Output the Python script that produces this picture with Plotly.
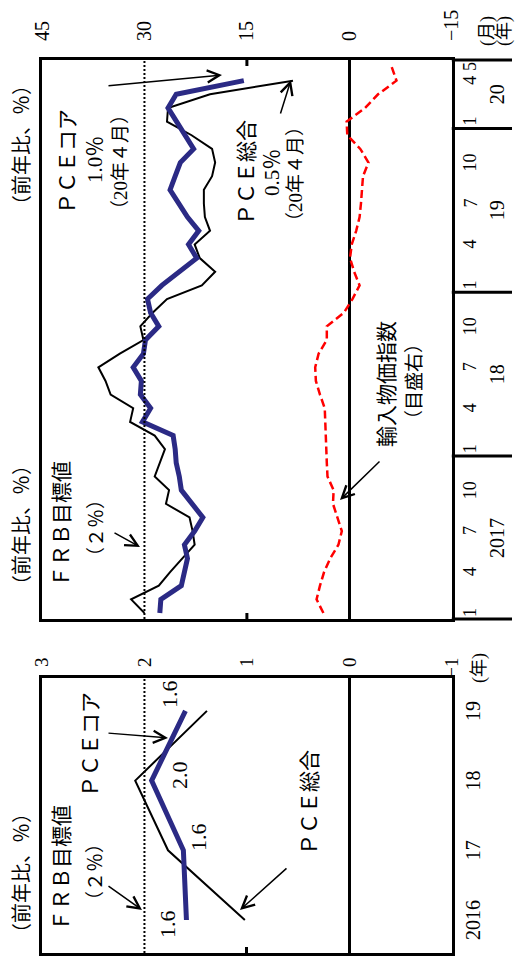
import plotly.graph_objects as go

W, H = 515, 959

# ---------------- data ----------------
# monthly panel: index 0 = Jan 2017 ... index 40 = May 2020
month_index = list(range(41))
pce_total_m = [2.00, 2.13, 1.86, 1.75, 1.63, 1.51, 1.53, 1.56, 1.79, 1.76, 1.90, 1.85,
               1.80, 1.90, 2.14, 2.11, 2.33, 2.38, 2.45, 2.24, 2.01, 2.04, 1.92, 1.78,
               1.44, 1.31, 1.46, 1.51, 1.36, 1.41, 1.42, 1.42, 1.34, 1.31, 1.34, 1.54,
               1.78, 1.77, 1.36, 0.55]
pce_core_m = [1.85, 1.84, 1.64, 1.61, 1.58, 1.61, 1.51, 1.43, 1.54, 1.64, 1.66, 1.69,
              1.70, 1.72, 2.02, 1.94, 2.04, 2.03, 2.11, 2.01, 1.99, 1.86, 1.94, 1.97,
              1.83, 1.66, 1.49, 1.57, 1.47, 1.58, 1.66, 1.75, 1.70, 1.65, 1.52, 1.60,
              1.68, 1.77, 1.69, 1.03]
import_price_m = [3.8, 4.8, 4.3, 3.7, 2.8, 1.6, 1.1, 1.8, 2.4, 2.3, 3.2, 3.3,
                  3.4, 3.5, 3.6, 3.6, 4.3, 4.9, 5.0, 4.5, 3.3, 3.3, 0.8, -0.45,
                  -1.5, -0.7, -0.1, -0.35, -1.0, -1.5, -1.7, -1.9, -2.0, -2.8, -1.6, 0.3,
                  0.4, -2.3, -4.2, -6.9, -6.2]

month_tick_idx = [0, 3, 6, 9, 12, 15, 18, 21, 24, 27, 30, 33, 36, 39, 40]
month_tick_txt = ["1", "4", "7", "10", "1", "4", "7", "10", "1", "4", "7", "10", "1", "4", "5"]
year_label_pos = [5.5, 17.5, 29.5, 38.0]
year_label_txt = ["2017", "18", "19", "20"]
year_breaks = [11.5, 23.5, 35.5]

pct_ticks = [3, 2, 1, 0, -1]
pct_tick_txt = ["3", "2", "1", "0", "−1"]
imp_ticks = [45, 30, 15, 0, -15]
imp_tick_txt = ["45", "30", "15", "0", "−15"]

# annual panel
years = [2016, 2017, 2018, 2019]
year_txt = ["2016", "17", "18", "19"]
pce_core_y = [1.59, 1.62, 1.93, 1.60]
pce_total_y = [1.02, 1.77, 2.09, 1.39]
core_value_txt = ["1.6", "1.6", "2.0", "1.6"]

FRB_TARGET = 2.0

# ---------------- geometry / style ----------------
NAVY = "#2B2A85"
SERIF = "Liberation Serif, Noto Sans CJK JP, serif"


def px(x):
    return x / W


def py(y):
    return 1 - y / H


X0, X1, XR = 42, 451.8, 512
T_TOP, T_BOT = 60, 619
B_TOP, B_BOT = 678, 953
I0_PX, M_PX = 613.0, 13.65          # pixel of Jan-2017, pixels per month
Y2016_PX, YR_PX = 920.0, 69.7       # pixel of 2016, pixels per year

m_range = [(I0_PX - T_BOT) / M_PX, (I0_PX - T_TOP) / M_PX]
y_range = [2016 - (B_BOT - Y2016_PX) / YR_PX, 2016 + (Y2016_PX - B_TOP) / YR_PX]

fig = go.Figure()

# monthly panel
fig.add_trace(go.Scatter(x=pce_total_m, y=month_index[:len(pce_total_m)], xaxis="x", yaxis="y",
                         mode="lines", line=dict(color="black", width=2), hoverinfo="skip"))
fig.add_trace(go.Scatter(x=pce_core_m, y=month_index[:len(pce_core_m)], xaxis="x", yaxis="y",
                         mode="lines", line=dict(color=NAVY, width=5), hoverinfo="skip"))
fig.add_trace(go.Scatter(x=import_price_m, y=month_index, xaxis="x2", yaxis="y",
                         mode="lines", line=dict(color="#FF0000", width=2.5, dash="8px,4px"),
                         hoverinfo="skip"))
# annual panel
fig.add_trace(go.Scatter(x=pce_total_y, y=years, xaxis="x3", yaxis="y3",
                         mode="lines", line=dict(color="black", width=2), hoverinfo="skip"))
fig.add_trace(go.Scatter(x=pce_core_y, y=years, xaxis="x3", yaxis="y3",
                         mode="lines", line=dict(color=NAVY, width=5), hoverinfo="skip"))

frame = dict(showline=True, mirror=True, linewidth=3, linecolor="black", showgrid=False,
             automargin=False, fixedrange=True)

fig.update_layout(
    template="none",
    width=W, height=H, margin=dict(l=0, r=0, t=0, b=0, pad=0, autoexpand=False),
    paper_bgcolor="white", plot_bgcolor="white", showlegend=False,
    xaxis=dict(domain=[px(X0), px(X1)], range=[3, -1], anchor="y", side="bottom",
               tickvals=pct_ticks, ticktext=pct_tick_txt, tickangle=-90, ticks="",
               ticklabelstandoff=28, tickfont=dict(family=SERIF, size=19, color="black"),
               zeroline=True, zerolinewidth=3, zerolinecolor="black", **frame),
    xaxis2=dict(overlaying="x", range=[45, -15], anchor="y", side="top",
                tickvals=imp_ticks, ticktext=imp_tick_txt, tickangle=-90, ticks="",
                ticklabelstandoff=18, tickfont=dict(family=SERIF, size=20, color="black"),
                showline=False, zeroline=False, showgrid=False, automargin=False,
                fixedrange=True),
    yaxis=dict(domain=[py(T_BOT), py(T_TOP)], range=m_range, anchor="x",
               showticklabels=False, ticks="", zeroline=False, **frame),
    xaxis3=dict(domain=[px(X0), px(X1)], range=[3, -1], anchor="y3", side="bottom",
                tickvals=[1], ticks="inside", ticklen=6, tickwidth=3, tickcolor="black",
                showticklabels=False, zeroline=True, zerolinewidth=3, zerolinecolor="black",
                **frame),
    yaxis3=dict(domain=[py(B_BOT), py(B_TOP)], range=y_range, anchor="x3",
                showticklabels=False, ticks="", zeroline=False, **frame),
)

shapes = []
# FRB target dotted lines
shapes.append(dict(type="line", xref="x", yref="paper", x0=FRB_TARGET, x1=FRB_TARGET,
                   y0=py(T_BOT), y1=py(T_TOP), line=dict(color="black", width=2, dash="2px,2px")))
shapes.append(dict(type="line", xref="x3", yref="paper", x0=FRB_TARGET, x1=FRB_TARGET,
                   y0=py(B_BOT), y1=py(B_TOP), line=dict(color="black", width=2, dash="2px,2px")))
# small ticks at 1% (top panel)
shapes.append(dict(type="line", xref="x", yref="paper", x0=1, x1=1,
                   y0=py(T_BOT), y1=py(T_BOT - 6), line=dict(color="black", width=3)))
shapes.append(dict(type="line", xref="x", yref="paper", x0=1, x1=1,
                   y0=py(T_TOP), y1=py(T_TOP + 6), line=dict(color="black", width=3)))
# extension of frame lines into the time-label strip
for yy in (T_TOP, T_BOT):
    shapes.append(dict(type="line", xref="paper", yref="paper", x0=px(X1), x1=px(XR),
                       y0=py(yy), y1=py(yy), line=dict(color="black", width=3)))
for b in year_breaks:
    shapes.append(dict(type="line", xref="paper", yref="y", x0=px(X1), x1=px(XR),
                       y0=b, y1=b, line=dict(color="black", width=3)))
fig.update_layout(shapes=shapes)

ann = []


def txt(x, y, s, size=21, xref="paper", yref="paper"):
    xv = px(x) if xref == "paper" else x
    yv = py(y) if yref == "paper" else y
    return dict(x=xv, y=yv, xref=xref, yref=yref, text=s, textangle=-90, showarrow=False,
                xanchor="center", yanchor="middle",
                font=dict(family=SERIF, size=size, color="black"))


def arrow(hx, hy, tx, ty):
    return dict(x=px(hx), y=py(hy), xref="paper", yref="paper", ax=tx - hx, ay=ty - hy,
                text="", showarrow=True, arrowhead=5, arrowsize=1.6, arrowwidth=1.5,
                arrowcolor="black", standoff=0, startstandoff=0)


# month / year labels of the monthly panel
for i, t in zip(month_tick_idx, month_tick_txt):
    ann.append(txt(470, 0, t, size=18, yref="y") | dict(y=i))
for p, t in zip(year_label_pos, year_label_txt):
    ann.append(txt(497, 0, t, size=20, yref="y") | dict(y=p))
ann.append(txt(488, 31, "(月)", size=18))
ann.append(txt(505, 31, "(年)", size=18))

# year labels of the annual panel
for yv, t in zip(years, year_txt):
    ann.append(txt(473, 0, t, size=20, yref="y3") | dict(y=yv))
ann.append(txt(479, 668, "(年)", size=18))

# unit labels
ann.append(txt(22, 145, "（前年比、％）", size=20))
ann.append(txt(22, 525, "（前年比、％）", size=20))
ann.append(txt(22, 873, "（前年比、％）", size=20))

# monthly panel labels
ann.append(txt(62, 524, "ＦＲＢ目標値"))
ann.append(txt(96, 528, "（２％）", size=19))
ann.append(arrow(140, 547, 113, 532))
ann.append(txt(68, 162, "ＰＣＥコア"))
ann.append(txt(95, 160, "1.0％", size=21))
ann.append(txt(120, 162, "（20年４月）", size=19))
ann.append(arrow(222, 75, 107, 86))
ann.append(txt(247, 173, "ＰＣＥ総合"))
ann.append(txt(272, 173, "0.5％", size=21))
ann.append(txt(295, 174, "（20年４月）", size=19))
ann.append(arrow(291, 80, 280, 115))
ann.append(txt(387, 384, "輸入物価指数"))
ann.append(txt(415, 382, "（目盛右）", size=19))
ann.append(arrow(340, 500, 381, 460))

# annual panel labels
ann.append(txt(62, 868, "ＦＲＢ目標値"))
ann.append(txt(95, 872, "（２％）", size=19))
ann.append(arrow(142, 910, 107, 885))
ann.append(txt(91, 745, "ＰＣＥコア"))
ann.append(arrow(168, 738, 107, 733))
ann.append(txt(310, 803, "ＰＣＥ総合"))
ann.append(arrow(240, 910, 288, 867))
for (x, y), t in zip([(167, 924), (198, 837), (179, 775), (169, 694)], core_value_txt):
    ann.append(txt(x, y, t, size=22))

fig.update_layout(annotations=ann)

fig.write_html("out.html", config={"displayModeBar": False, "staticPlot": True},
               post_script="document.body.style.margin='0';document.body.style.padding='0';")
